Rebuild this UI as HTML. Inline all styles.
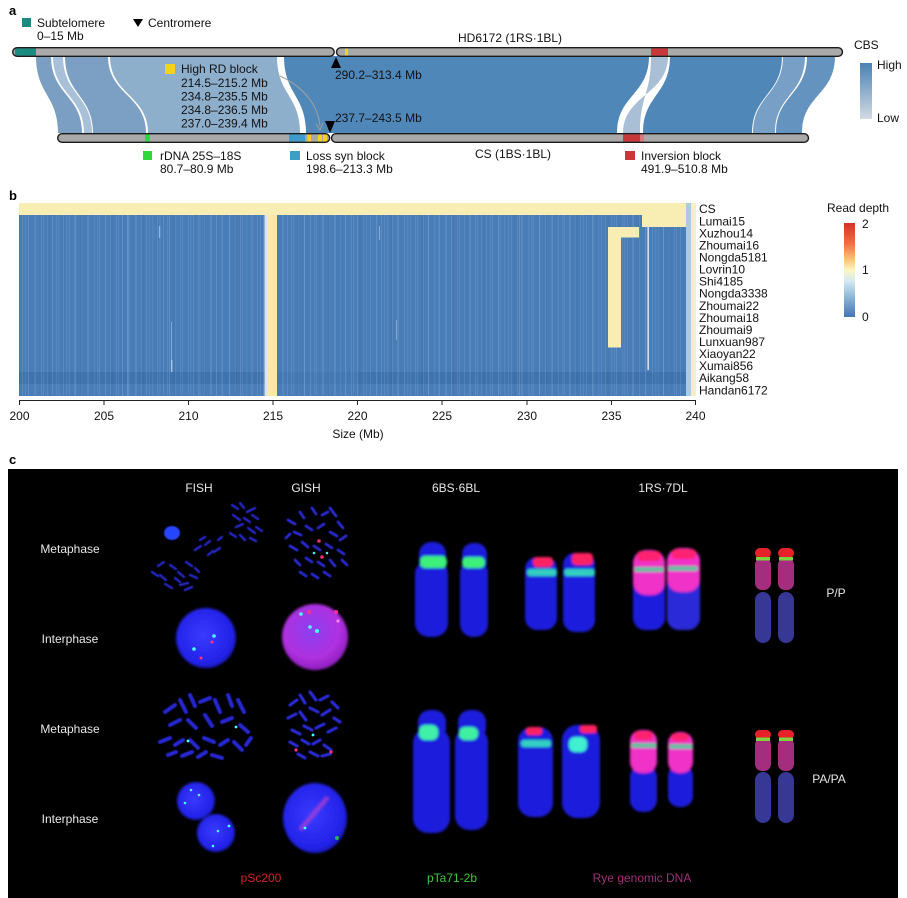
<!DOCTYPE html>
<html><head><meta charset="utf-8"><style>
html,body{margin:0;padding:0;background:#fff;}
svg{display:block;}
</style></head><body>
<svg width="907" height="898" viewBox="0 0 907 898" xmlns="http://www.w3.org/2000/svg" font-family="'Liberation Sans', Arial, sans-serif">
<defs>
  <linearGradient id="cbs" x1="0" y1="0" x2="0" y2="1">
    <stop offset="0" stop-color="#4a82b5"/><stop offset="1" stop-color="#d3dae2"/>
  </linearGradient>
  <linearGradient id="rd" x1="0" y1="0" x2="0" y2="1">
    <stop offset="0" stop-color="#d73027"/><stop offset="0.22" stop-color="#f46d43"/>
    <stop offset="0.38" stop-color="#fdc071"/><stop offset="0.5" stop-color="#fbf7c0"/>
    <stop offset="0.62" stop-color="#d4e9f2"/><stop offset="0.8" stop-color="#86b3d6"/>
    <stop offset="1" stop-color="#4575b4"/>
  </linearGradient>
  <pattern id="st" x="19" y="0" width="47" height="400" patternUnits="userSpaceOnUse">
    <rect x="3" y="0" width="1" height="400" fill="#fff" opacity="0.10"/>
    <rect x="9" y="0" width="0.8" height="400" fill="#fff" opacity="0.16"/>
    <rect x="15" y="0" width="1.2" height="400" fill="#fff" opacity="0.07"/>
    <rect x="22" y="0" width="0.7" height="400" fill="#fff" opacity="0.13"/>
    <rect x="28" y="0" width="1" height="400" fill="#fff" opacity="0.08"/>
    <rect x="33" y="0" width="0.6" height="400" fill="#fff" opacity="0.18"/>
    <rect x="39" y="0" width="1.3" height="400" fill="#fff" opacity="0.06"/>
    <rect x="44" y="0" width="0.8" height="400" fill="#fff" opacity="0.11"/>
  </pattern>
  <pattern id="st2" x="30" y="0" width="31" height="400" patternUnits="userSpaceOnUse">
    <rect x="5" y="0" width="1.5" height="400" fill="#fff" opacity="0.06"/>
    <rect x="13" y="0" width="0.7" height="400" fill="#fff" opacity="0.12"/>
    <rect x="19" y="0" width="2" height="400" fill="#000" opacity="0.04"/>
    <rect x="26" y="0" width="0.9" height="400" fill="#fff" opacity="0.09"/>
  </pattern>
  <radialGradient id="nucB" cx="0.45" cy="0.45" r="0.6">
    <stop offset="0" stop-color="#3a3aff"/><stop offset="0.8" stop-color="#2222e8"/><stop offset="1" stop-color="#1515b0"/>
  </radialGradient>
  <radialGradient id="nucM" cx="0.45" cy="0.4" r="0.6">
    <stop offset="0" stop-color="#8a40f0"/><stop offset="0.7" stop-color="#b030e0"/><stop offset="1" stop-color="#9020c0"/>
  </radialGradient>
  <filter id="b1" x="-20%" y="-20%" width="140%" height="140%"><feGaussianBlur stdDeviation="1.2"/></filter>
  <filter id="b2" x="-20%" y="-20%" width="140%" height="140%"><feGaussianBlur stdDeviation="2"/></filter>
  <filter id="b05"><feGaussianBlur stdDeviation="0.6"/></filter>
</defs>

<!-- ================= Panel a ================= -->
<text x="9" y="15" font-size="13" font-weight="bold" fill="#000">a</text>
<rect x="22" y="18" width="9" height="9" fill="#1b8a80"/>
<text x="37" y="27" font-size="12" fill="#111">Subtelomere</text>
<text x="37" y="40" font-size="12" fill="#111">0–15 Mb</text>
<path d="M133,19 L143,19 L138,27 Z" fill="#000"/>
<text x="148" y="27" font-size="12" fill="#111">Centromere</text>
<text x="458" y="42" font-size="12" fill="#111">HD6172 (1RS·1BL)</text>

<!-- ribbons -->
<g>
  <path d="M36,56 C36,95 58,95 58,133 L82,133 C82,95 51,95 51,56 Z" fill="#7b9fc2"/>
  <path d="M53,56 C53,95 84,95 84,133 L92,133 C92,95 63,95 63,56 Z" fill="#a9c1d8"/>
  <path d="M65,56 C65,95 93,95 93,133 L146,133 C146,95 108,95 108,56 Z" fill="#7ca0c4"/>
  <path d="M110,56 C110,95 148,95 148,133 L300,133 C300,95 277,95 277,56 Z" fill="#8eafcc"/>
  <path d="M284,56 C284,95 306,95 306,133 L617,133 C617,95 649,95 649,56 Z" fill="#4f87b9"/>
  <path d="M651,56 C651,95 640,95 640,133 L623,133 C623,95 668,95 668,56 Z" fill="#a8bfd5"/>
  <path d="M670,56 C670,95 643,95 643,133 L752,133 C752,95 782,95 782,56 Z" fill="#4f87b9"/>
  <path d="M783,56 C783,95 753,95 753,133 L775,133 C775,95 805,95 805,56 Z" fill="#789fc6"/>
  <path d="M807,56 C807,95 776,95 776,133 L802,133 C802,95 835,95 835,56 Z" fill="#6593c0"/>
</g>
<!-- gray arrow -->
<path d="M280,76 C302,86 318,104 320,126" fill="none" stroke="#a0a0a0" stroke-width="1"/>
<path d="M316,124 L320,130 L323,123" fill="none" stroke="#a0a0a0" stroke-width="1"/>

<!-- top bar -->
<rect x="12.7" y="47.7" width="321.5" height="8.6" rx="4.3" fill="#a9a9a9"/>
<rect x="336.5" y="47.7" width="506" height="8.6" rx="4.3" fill="#a9a9a9"/>
<rect x="15" y="48.4" width="21" height="7.2" fill="#1b8a80"/>
<rect x="345" y="48.4" width="3" height="7.2" fill="#f5d020"/>
<rect x="651" y="48.4" width="17" height="7.2" fill="#c8373a"/>
<rect x="12.7" y="47.7" width="321.5" height="8.6" rx="4.3" fill="none" stroke="#1a1a1a" stroke-width="1.4"/>
<rect x="336.5" y="47.7" width="506" height="8.6" rx="4.3" fill="none" stroke="#1a1a1a" stroke-width="1.4"/>

<!-- bottom bar -->
<rect x="57.7" y="133.7" width="272" height="8.6" rx="4.3" fill="#a9a9a9"/>
<rect x="331.5" y="133.7" width="477" height="8.6" rx="4.3" fill="#a9a9a9"/>
<rect x="145" y="134.4" width="5" height="7.2" fill="#2ed83a"/>
<rect x="289" y="134.4" width="16" height="7.2" fill="#3d9ccc"/>
<rect x="307.5" y="134.4" width="3.5" height="7.2" fill="#f5d020"/>
<rect x="318" y="134.4" width="4" height="7.2" fill="#f5d020"/>
<rect x="323" y="134.4" width="4" height="7.2" fill="#f5d020"/>
<rect x="623" y="134.4" width="17" height="7.2" fill="#c8373a"/>
<rect x="640" y="134.4" width="4" height="7.2" fill="#d87a7c"/>
<rect x="57.7" y="133.7" width="272" height="8.6" rx="4.3" fill="none" stroke="#1a1a1a" stroke-width="1.4"/>
<rect x="331.5" y="133.7" width="477" height="8.6" rx="4.3" fill="none" stroke="#1a1a1a" stroke-width="1.4"/>

<!-- centromere markers -->
<path d="M336,57 L341,68 L331,68 Z" fill="#000"/>
<path d="M325,121 L335,121 L330,133 Z" fill="#000"/>
<text x="335" y="79" font-size="12" fill="#111">290.2–313.4 Mb</text>
<text x="335" y="122" font-size="12" fill="#111">237.7–243.5 Mb</text>

<!-- High RD block -->
<rect x="165" y="64" width="10" height="10" fill="#f5d020"/>
<text x="181" y="73" font-size="12" fill="#111">High RD block</text>
<text x="181" y="87" font-size="12" fill="#111">214.5–215.2 Mb</text>
<text x="181" y="100.5" font-size="12" fill="#111">234.8–235.5 Mb</text>
<text x="181" y="114" font-size="12" fill="#111">234.8–236.5 Mb</text>
<text x="181" y="127.5" font-size="12" fill="#111">237.0–239.4 Mb</text>

<!-- bottom legend -->
<rect x="143" y="151" width="9" height="9" fill="#2ed83a"/>
<text x="160" y="160" font-size="12" fill="#111">rDNA 25S–18S</text>
<text x="160" y="173" font-size="12" fill="#111">80.7–80.9 Mb</text>
<rect x="290" y="151" width="10" height="9" fill="#3d9ccc"/>
<text x="306" y="160" font-size="12" fill="#111">Loss syn block</text>
<text x="306" y="173" font-size="12" fill="#111">198.6–213.3 Mb</text>
<text x="475" y="158" font-size="12" fill="#111">CS (1BS·1BL)</text>
<rect x="625" y="151" width="10" height="9" fill="#c8373a"/>
<text x="641" y="160" font-size="12" fill="#111">Inversion block</text>
<text x="641" y="173" font-size="12" fill="#111">491.9–510.8 Mb</text>

<!-- CBS legend -->
<text x="854" y="49" font-size="12" fill="#111">CBS</text>
<rect x="860" y="63" width="12" height="56" fill="url(#cbs)"/>
<text x="877" y="69" font-size="12" fill="#111">High</text>
<text x="877" y="122" font-size="12" fill="#111">Low</text>

<!-- ================= Panel b ================= -->
<text x="9" y="200" font-size="13" font-weight="bold" fill="#000">b</text>
<rect x="19" y="215" width="667" height="181" fill="#497db8"/>
<rect x="19" y="372" width="667" height="12" fill="#3f73ae"/>
<rect x="277" y="372" width="80" height="12" fill="#4478b3"/>
<rect x="19" y="215" width="667" height="181" fill="url(#st)"/>
<rect x="19" y="215" width="667" height="181" fill="url(#st2)"/>
<rect x="159" y="226" width="1.2" height="12" fill="#9cc4ea" opacity="0.8"/>
<rect x="171" y="322" width="1" height="50" fill="#9cc4ea" opacity="0.6"/>
<rect x="171" y="360" width="1.4" height="12" fill="#a8cdee" opacity="0.9"/>
<rect x="127" y="215" width="1" height="181" fill="#8fb6dc" opacity="0.4"/>
<rect x="379" y="226" width="1" height="14" fill="#9cc4ea" opacity="0.7"/>
<rect x="396" y="320" width="1" height="20" fill="#9cc4ea" opacity="0.6"/>
<rect x="519" y="215" width="1" height="181" fill="#8fb6dc" opacity="0.3"/>
<rect x="19" y="203" width="667" height="12" fill="#f8edb2"/>
<rect x="264.5" y="215" width="2.5" height="181" fill="#d8e6ee"/>
<rect x="267" y="215" width="10" height="181" fill="#f8e9a8"/>
<rect x="642" y="215" width="44" height="12" fill="#f8edb2"/>
<rect x="608" y="227" width="31" height="10.5" fill="#f8edb2"/>
<rect x="608" y="227" width="13" height="120.5" fill="#f8edb2"/>
<rect x="647.5" y="227" width="1.3" height="143" fill="#f2f6fa"/>
<rect x="686" y="203" width="5" height="193" fill="#a9cbe3"/>
<rect x="691" y="203" width="5" height="193" fill="#f5efc4"/>

<!-- axis -->
<g stroke="#222" stroke-width="1">
  <line x1="19" y1="400.5" x2="696" y2="400.5"/>
  <line x1="19.5" y1="400.5" x2="19.5" y2="405"/>
  <line x1="104" y1="400.5" x2="104" y2="405"/>
  <line x1="188.5" y1="400.5" x2="188.5" y2="405"/>
  <line x1="273" y1="400.5" x2="273" y2="405"/>
  <line x1="357.5" y1="400.5" x2="357.5" y2="405"/>
  <line x1="442" y1="400.5" x2="442" y2="405"/>
  <line x1="527" y1="400.5" x2="527" y2="405"/>
  <line x1="611.5" y1="400.5" x2="611.5" y2="405"/>
  <line x1="695.5" y1="400.5" x2="695.5" y2="405"/>
</g>
<g font-size="12" fill="#111" text-anchor="middle">
  <text x="19.5" y="420">200</text>
  <text x="104" y="420">205</text>
  <text x="188.5" y="420">210</text>
  <text x="273" y="420">215</text>
  <text x="357.5" y="420">220</text>
  <text x="442" y="420">225</text>
  <text x="527" y="420">230</text>
  <text x="611.5" y="420">235</text>
  <text x="695.5" y="420">240</text>
  <text x="358" y="438">Size (Mb)</text>
</g>
<g font-size="12" fill="#111">
  <text x="699" y="213">CS</text>
  <text x="699" y="225.3">Lumai15</text>
  <text x="699" y="237.3">Xuzhou14</text>
  <text x="699" y="249.4">Zhoumai16</text>
  <text x="699" y="261.5">Nongda5181</text>
  <text x="699" y="273.6">Lovrin10</text>
  <text x="699" y="285.6">Shi4185</text>
  <text x="699" y="297.7">Nongda3338</text>
  <text x="699" y="309.8">Zhoumai22</text>
  <text x="699" y="321.8">Zhoumai18</text>
  <text x="699" y="333.9">Zhoumai9</text>
  <text x="699" y="346">Lunxuan987</text>
  <text x="699" y="358">Xiaoyan22</text>
  <text x="699" y="370.1">Xumai856</text>
  <text x="699" y="382.2">Aikang58</text>
  <text x="699" y="394.3">Handan6172</text>
</g>
<text x="827" y="212" font-size="12" fill="#111">Read depth</text>
<rect x="844" y="223" width="11" height="94" fill="url(#rd)"/>
<text x="862" y="228" font-size="12" fill="#111">2</text>
<text x="862" y="274" font-size="12" fill="#111">1</text>
<text x="862" y="321" font-size="12" fill="#111">0</text>

<!-- ================= Panel c ================= -->
<text x="9" y="464" font-size="13" font-weight="bold" fill="#000">c</text>
<rect x="8" y="469" width="890" height="429" fill="#000"/>

<g font-size="12" fill="#e8e8e8" text-anchor="middle">
  <text x="199" y="492">FISH</text>
  <text x="306" y="492">GISH</text>
  <text x="456" y="492">6BS·6BL</text>
  <text x="663" y="492">1RS·7DL</text>
  <text x="70" y="553">Metaphase</text>
  <text x="70" y="643">Interphase</text>
  <text x="70" y="733">Metaphase</text>
  <text x="70" y="823">Interphase</text>
  <text x="836" y="597">P/P</text>
  <text x="829" y="783">PA/PA</text>
  <text x="261" y="882" fill="#d8232a">pSc200</text>
  <text x="452" y="882" fill="#3ec83a">pTa71-2b</text>
  <text x="642" y="882" fill="#a0307a">Rye genomic DNA</text>
</g>

<!-- FISH metaphase row 1 -->
<ellipse cx="172" cy="533" rx="8" ry="7" fill="#2545ff" filter="url(#b05)"/>
<g stroke="#2828cc" stroke-width="2.4" stroke-linecap="round" filter="url(#b05)">
  <line x1="232" y1="505" x2="238" y2="509"/><line x1="240" y1="503" x2="244" y2="508"/>
  <line x1="247" y1="512" x2="255" y2="508"/><line x1="233" y1="515" x2="240" y2="520"/>
  <line x1="244" y1="518" x2="250" y2="522"/><line x1="252" y1="515" x2="258" y2="519"/>
  <line x1="236" y1="527" x2="243" y2="524"/><line x1="248" y1="528" x2="255" y2="533"/>
  <line x1="230" y1="533" x2="236" y2="537"/><line x1="240" y1="535" x2="245" y2="540"/>
  <line x1="256" y1="527" x2="262" y2="531"/><line x1="250" y1="538" x2="256" y2="541"/>
  <line x1="195" y1="550" x2="201" y2="546"/><line x1="205" y1="545" x2="210" y2="541"/>
  <line x1="214" y1="552" x2="220" y2="548"/><line x1="208" y1="555" x2="213" y2="551"/>
  <line x1="218" y1="540" x2="222" y2="537"/><line x1="200" y1="540" x2="205" y2="537"/>
  <line x1="152" y1="572" x2="158" y2="576"/><line x1="160" y1="575" x2="166" y2="580"/>
  <line x1="170" y1="565" x2="176" y2="569"/><line x1="178" y1="572" x2="184" y2="577"/>
  <line x1="186" y1="562" x2="192" y2="566"/><line x1="165" y1="584" x2="172" y2="588"/>
  <line x1="180" y1="585" x2="188" y2="583"/><line x1="190" y1="575" x2="197" y2="578"/>
  <line x1="175" y1="578" x2="180" y2="582"/><line x1="158" y1="566" x2="164" y2="562"/>
  <line x1="185" y1="590" x2="192" y2="587"/><line x1="195" y1="568" x2="199" y2="572"/>
</g>
<!-- GISH metaphase row 1 -->
<g stroke="#2a2ad6" stroke-width="2.8" stroke-linecap="round" filter="url(#b05)">
  <line x1="288" y1="520" x2="295" y2="524"/><line x1="300" y1="512" x2="304" y2="518"/>
  <line x1="312" y1="508" x2="316" y2="514"/><line x1="322" y1="515" x2="328" y2="512"/>
  <line x1="330" y1="508" x2="336" y2="516"/><line x1="338" y1="522" x2="343" y2="528"/>
  <line x1="294" y1="532" x2="301" y2="535"/><line x1="306" y1="526" x2="312" y2="530"/>
  <line x1="318" y1="528" x2="324" y2="524"/><line x1="330" y1="532" x2="337" y2="536"/>
  <line x1="340" y1="540" x2="346" y2="536"/><line x1="290" y1="546" x2="297" y2="550"/>
  <line x1="302" y1="542" x2="308" y2="547"/><line x1="314" y1="546" x2="320" y2="550"/>
  <line x1="326" y1="544" x2="332" y2="548"/><line x1="338" y1="550" x2="344" y2="554"/>
  <line x1="295" y1="560" x2="300" y2="565"/><line x1="306" y1="558" x2="312" y2="562"/>
  <line x1="318" y1="562" x2="324" y2="566"/><line x1="330" y1="560" x2="335" y2="566"/>
  <line x1="300" y1="572" x2="306" y2="576"/><line x1="312" y1="574" x2="318" y2="578"/>
  <line x1="324" y1="572" x2="330" y2="576"/><line x1="286" y1="538" x2="290" y2="534"/>
  <line x1="342" y1="560" x2="347" y2="565"/>
</g>
<circle cx="319" cy="541" r="1.8" fill="#ff2a80"/><circle cx="322" cy="557" r="1.8" fill="#ff2a80"/>
<circle cx="314" cy="553" r="1.3" fill="#40f0f0"/><circle cx="327" cy="553" r="1.3" fill="#40f0f0"/>

<!-- Interphase row 2 -->
<circle cx="206" cy="638" r="30" fill="url(#nucB)" filter="url(#b1)"/>
<circle cx="214" cy="636" r="1.8" fill="#50ffff"/><circle cx="194" cy="649" r="1.8" fill="#50ffff"/>
<circle cx="212" cy="642" r="1.5" fill="#ff3090"/><circle cx="201" cy="658" r="1.5" fill="#ff3090"/>
<circle cx="315" cy="637" r="33" fill="url(#nucM)" filter="url(#b1)"/>
<circle cx="301" cy="614" r="1.8" fill="#50ffff"/><circle cx="310" cy="627" r="1.8" fill="#50ffff"/>
<circle cx="317" cy="631" r="2" fill="#50ffff"/><circle cx="309" cy="612" r="2" fill="#ff3090"/>
<circle cx="336" cy="612" r="2" fill="#ff3090"/><circle cx="338" cy="621" r="1.6" fill="#ff80ff"/>

<!-- FISH metaphase row 3 -->
<g stroke="#2525d2" stroke-width="4" stroke-linecap="round" filter="url(#b05)">
  <line x1="165" y1="712" x2="175" y2="705"/><line x1="180" y1="700" x2="186" y2="712"/>
  <line x1="190" y1="695" x2="195" y2="706"/><line x1="200" y1="702" x2="210" y2="698"/>
  <line x1="215" y1="700" x2="220" y2="712"/><line x1="228" y1="695" x2="232" y2="706"/>
  <line x1="238" y1="700" x2="244" y2="712"/><line x1="170" y1="725" x2="180" y2="720"/>
  <line x1="188" y1="720" x2="196" y2="728"/><line x1="205" y1="715" x2="212" y2="726"/>
  <line x1="222" y1="722" x2="232" y2="718"/><line x1="240" y1="725" x2="248" y2="732"/>
  <line x1="160" y1="742" x2="170" y2="738"/><line x1="175" y1="745" x2="183" y2="740"/>
  <line x1="190" y1="740" x2="198" y2="748"/><line x1="204" y1="738" x2="214" y2="742"/>
  <line x1="220" y1="745" x2="228" y2="740"/><line x1="234" y1="742" x2="242" y2="750"/>
  <line x1="168" y1="755" x2="176" y2="752"/><line x1="182" y1="756" x2="192" y2="752"/>
  <line x1="198" y1="757" x2="206" y2="752"/><line x1="212" y1="755" x2="222" y2="758"/>
  <line x1="246" y1="745" x2="251" y2="738"/>
</g>
<circle cx="236" cy="727" r="1.4" fill="#50ffff"/><circle cx="188" cy="741" r="1.4" fill="#50ffff"/>
<!-- GISH metaphase row 3 -->
<g stroke="#2a2ad8" stroke-width="3.2" stroke-linecap="round" filter="url(#b05)">
  <line x1="290" y1="705" x2="297" y2="700"/><line x1="300" y1="695" x2="305" y2="703"/>
  <line x1="310" y1="692" x2="316" y2="700"/><line x1="320" y1="700" x2="328" y2="696"/>
  <line x1="332" y1="702" x2="338" y2="708"/><line x1="288" y1="718" x2="296" y2="714"/>
  <line x1="300" y1="712" x2="306" y2="720"/><line x1="310" y1="708" x2="318" y2="712"/>
  <line x1="322" y1="715" x2="330" y2="710"/><line x1="334" y1="718" x2="340" y2="722"/>
  <line x1="292" y1="730" x2="300" y2="734"/><line x1="304" y1="726" x2="312" y2="730"/>
  <line x1="316" y1="728" x2="324" y2="724"/><line x1="328" y1="732" x2="336" y2="728"/>
  <line x1="290" y1="742" x2="297" y2="746"/><line x1="302" y1="740" x2="309" y2="744"/>
  <line x1="313" y1="744" x2="320" y2="740"/><line x1="324" y1="745" x2="331" y2="750"/>
  <line x1="298" y1="754" x2="305" y2="758"/><line x1="310" y1="752" x2="318" y2="756"/>
  <line x1="322" y1="756" x2="330" y2="754"/>
</g>
<circle cx="296" cy="750" r="1.6" fill="#ff3080"/><circle cx="331" cy="752" r="1.6" fill="#ff3080"/>
<circle cx="313" cy="735" r="1.4" fill="#50ffff"/>

<!-- Interphase row 4 -->
<circle cx="196" cy="801" r="19" fill="url(#nucB)" filter="url(#b1)"/>
<circle cx="216" cy="833" r="19" fill="url(#nucB)" filter="url(#b1)"/>
<circle cx="191" cy="790" r="1.3" fill="#50ffff"/><circle cx="199" cy="795" r="1.3" fill="#50ffff"/>
<circle cx="185" cy="803" r="1.3" fill="#50ffff"/><circle cx="229" cy="826" r="1.4" fill="#50ffff"/>
<circle cx="218" cy="831" r="1.3" fill="#50ffff"/><circle cx="213" cy="846" r="1.3" fill="#50ffff"/>
<ellipse cx="315" cy="818" rx="32" ry="35" fill="url(#nucB)" filter="url(#b1)"/>
<path d="M300,830 L328,797" stroke="#b040d0" stroke-width="5" opacity="0.7" filter="url(#b1)"/>
<circle cx="305" cy="828" r="1.4" fill="#50ffff"/><circle cx="337" cy="838" r="2" fill="#30b040"/>

<!-- 6BS·6BL chromosomes -->
<g filter="url(#b1)">
  <rect x="419" y="542" width="27" height="30" rx="12" fill="#1d1ddc"/>
  <rect x="415" y="560" width="33" height="77" rx="14" fill="#1d1ddc"/>
  <rect x="462" y="543" width="25" height="30" rx="11" fill="#1d1ddc"/>
  <rect x="460" y="560" width="28" height="77" rx="13" fill="#1d1ddc"/>
  <rect x="420" y="556" width="27" height="12" rx="5" fill="#3cf07a"/>
  <rect x="462" y="557" width="23" height="11" rx="5" fill="#3cf07a"/>
  <rect x="418" y="710" width="28" height="30" rx="12" fill="#1d1ddc"/>
  <rect x="413" y="728" width="37" height="105" rx="15" fill="#1d1ddc"/>
  <rect x="458" y="710" width="28" height="30" rx="12" fill="#1d1ddc"/>
  <rect x="455" y="728" width="33" height="102" rx="14" fill="#1d1ddc"/>
  <rect x="419" y="725" width="19" height="15" rx="6" fill="#40f0a8"/>
  <rect x="459" y="727" width="19" height="13" rx="6" fill="#40f0a0"/>
</g>
<!-- 1RS·7DL left pair -->
<g filter="url(#b1)">
  <rect x="525" y="557" width="32" height="73" rx="12" fill="#1d1ddc"/>
  <rect x="563" y="553" width="32" height="79" rx="12" fill="#1d1ddc"/>
  <rect x="533" y="557" width="20" height="10" rx="4" fill="#ff2060"/>
  <rect x="572" y="553" width="21" height="12" rx="4" fill="#ff2060"/>
  <rect x="527" y="569" width="30" height="7" rx="3" fill="#30d0c0"/>
  <rect x="564" y="569" width="31" height="7" rx="3" fill="#30d0c0"/>
  <rect x="518" y="727" width="35" height="90" rx="14" fill="#1d1ddc"/>
  <rect x="562" y="725" width="38" height="93" rx="15" fill="#1d1ddc"/>
  <rect x="526" y="727" width="16" height="8" rx="3" fill="#ff2060"/>
  <rect x="580" y="725" width="17" height="8" rx="3" fill="#ff2060"/>
  <rect x="521" y="740" width="30" height="7" rx="3" fill="#30d0c0"/>
  <rect x="569" y="737" width="18" height="15" rx="6" fill="#40f0d0"/>
</g>
<!-- 1RS·7DL right pair -->
<g filter="url(#b1)">
  <rect x="633" y="570" width="32" height="60" rx="12" fill="#1d1ddc"/>
  <rect x="667" y="570" width="33" height="60" rx="12" fill="#2a2ad8"/>
  <rect x="633" y="550" width="32" height="45" rx="13" fill="#f030c8"/>
  <rect x="667" y="548" width="33" height="44" rx="13" fill="#f030c8"/>
  <rect x="637" y="551" width="24" height="10" rx="4" fill="#ff2070"/>
  <rect x="672" y="549" width="24" height="10" rx="4" fill="#ff2070"/>
  <rect x="634" y="567" width="30" height="5" rx="2" fill="#60c0a0"/>
  <rect x="668" y="566" width="30" height="5" rx="2" fill="#60c0a0"/>
  <rect x="630" y="765" width="27" height="47" rx="12" fill="#1d1ddc"/>
  <rect x="668" y="765" width="25" height="42" rx="11" fill="#1d1ddc"/>
  <rect x="630" y="730" width="27" height="43" rx="11" fill="#f030c8"/>
  <rect x="668" y="732" width="25" height="41" rx="11" fill="#f030c8"/>
  <rect x="634" y="731" width="19" height="9" rx="4" fill="#ff2070"/>
  <rect x="671" y="733" width="18" height="8" rx="4" fill="#ff2070"/>
  <rect x="631" y="743" width="26" height="5" rx="2" fill="#60c0a0"/>
  <rect x="669" y="744" width="24" height="5" rx="2" fill="#60c0a0"/>
</g>

<!-- diagram chromosomes -->
<g>
  <rect x="755" y="592" width="16" height="51" rx="8" fill="#373796"/>
  <rect x="778" y="592" width="16" height="51" rx="8" fill="#373796"/>
  <rect x="755" y="558" width="16" height="32" rx="7" fill="#a52d7d"/>
  <rect x="778" y="558" width="16" height="32" rx="7" fill="#a52d7d"/>
  <rect x="755" y="548" width="16" height="10" rx="5" fill="#e8202a"/>
  <rect x="778" y="548" width="16" height="10" rx="5" fill="#e8202a"/>
  <rect x="756" y="557" width="14" height="3.5" fill="#80d040"/>
  <rect x="779" y="557" width="14" height="3.5" fill="#80d040"/>

  <rect x="755" y="772" width="16" height="51" rx="8" fill="#373796"/>
  <rect x="778" y="772" width="16" height="51" rx="8" fill="#373796"/>
  <rect x="755" y="738" width="16" height="33" rx="7" fill="#a52d7d"/>
  <rect x="778" y="738" width="16" height="33" rx="7" fill="#a52d7d"/>
  <rect x="755" y="730" width="16" height="9" rx="4.5" fill="#e8202a"/>
  <rect x="778" y="730" width="16" height="9" rx="4.5" fill="#e8202a"/>
  <rect x="756" y="737.5" width="14" height="3.5" fill="#80d040"/>
  <rect x="779" y="737.5" width="14" height="3.5" fill="#80d040"/>
</g>
</svg>
</body></html>
